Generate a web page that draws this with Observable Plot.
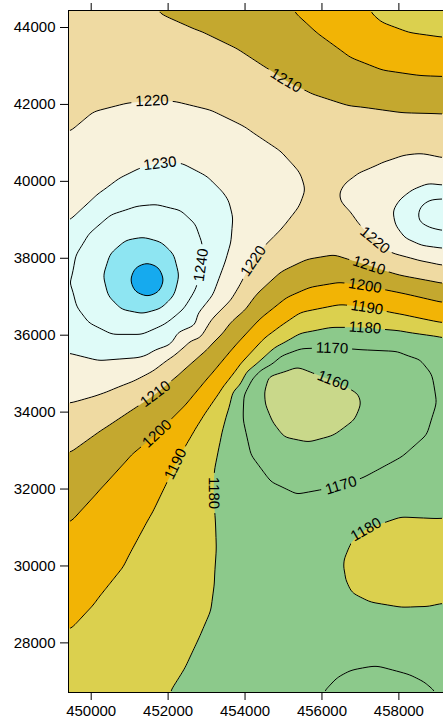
<!DOCTYPE html>
<html>
<head>
<meta charset="utf-8">
<script src="https://cdn.jsdelivr.net/npm/d3@7"></script>
<script src="https://cdn.jsdelivr.net/npm/@observablehq/plot@0.6"></script>
<style>
  html, body { margin: 0; padding: 0; background: #fff; }
  #chart { width: 443px; height: 723px; position: relative; }
  #note { position: absolute; left: 80px; top: 20px; color: red; font: 12px monospace; white-space: pre-wrap; }
</style>
</head>
<body>
<div id="chart"></div>
<div id="note"></div>
<script>
// Survey area extent (easting, northing) and axis ticks
const xDomain = [449410, 459160];
const yDomain = [26710, 44442];
const xTicks = [450000, 452000, 454000, 456000, 458000];
const yTicks = [28000, 30000, 32000, 34000, 36000, 38000, 40000, 42000, 44000];

// Isoline levels and band fills (each band starts at its floor value)
const lineLevels = [1160, 1170, 1180, 1190, 1200, 1210, 1220, 1230, 1240, 1250, 1260];
const bandFloors = [1100, 1160, 1170, 1180, 1190, 1200, 1210, 1220, 1230, 1240, 1250, 1260];
const bandColors = ["#c9d88a", "#8cc98b", "#8cc98b", "#dbd04e", "#f2b405", "#c4a82f",
                    "#efdaa2", "#f8f2dc", "#dffbf8", "#dffbf8", "#8ee5f2", "#16aaee"];

// Surveyed isolines: [easting, northing] vertices
const c1210north = [[451672,44442],[452842,43922],[453752,43480],[454584,42934],[455052,42622],[455702,42310],[456742,41972],[458042,41790],[459160,41764]];
const c1200north = [[455234,44442],[455884,43844],[456742,43220],[457600,42882],[458484,42752],[459160,42726]];
const c1190north = [[457184,44442],[457522,44130],[458224,43870],[459160,43740]];
const c1220west = [[449410,41244],[450060,41790],[451074,42050],[451594,42102],[452140,42076],[453102,41842],[454064,41374],[454922,40802],[455442,40230],[455572,39814],[455390,39320],[454922,38722],[454480,38280],[454220,37942],[453934,37422],[453622,36902],[453102,36382],[452582,35862],[452062,35420],[451620,35082],[451022,34770],[450502,34562],[449982,34380],[449410,34224]];
const c1230west = [[449410,38904],[449826,39294],[450242,39684],[450762,40074],[451282,40334],[451802,40464],[452322,40464],[453024,40100],[453362,39762],[453544,39502],[453674,38982],[453622,38384],[453492,37942],[453154,37032],[452712,36252],[452062,35732],[451282,35420],[450242,35342],[449410,35550]];
const c1240west = [[449462,37344],[449566,38072],[449930,38644],[450502,39138],[451152,39346],[451724,39398],[452322,39242],[452712,38878],[452894,38384],[452868,37812],[452738,37240],[452426,36720],[451932,36304],[451282,36018],[450554,36018],[449930,36330],[449592,36772]];
const c1250 = [[450320,37552],[450502,38124],[450892,38462],[451334,38540],[451802,38410],[452140,38072],[452270,37552],[452140,37032],[451802,36694],[451334,36564],[450814,36668],[450450,37032]];
const c1260 = [[451893,37435],[451768,37739],[451464,37864],[451160,37739],[451035,37435],[451160,37131],[451464,37006],[451768,37131]];
const c1220east = [[459160,40594],[458562,40724],[458120,40672],[457600,40490],[457002,40230],[456612,39970],[456404,39762],[456482,39502],[456742,39242],[457054,38800],[457392,38462],[457782,38150],[458562,37942],[459160,37812]];
const c1230east = [[459160,39866],[458770,39918],[458380,39762],[458042,39502],[457860,39190],[457938,38826],[458172,38514],[458562,38332],[459160,38254]];
const c1240east = [[459160,39580],[458822,39554],[458562,39398],[458432,39190],[458510,38930],[458822,38774],[459160,38696]];
const c1210mid = [[449410,32924],[450242,33522],[451022,34042],[451672,34484],[452322,35030],[452972,35602],[453622,36330],[454272,37032],[454922,37630],[455572,37942],[456352,38072],[457210,37812],[458042,37552],[459160,37344]];
const c1200mid = [[449410,31104],[450242,32014],[451022,32872],[451724,33444],[452452,34172],[453102,34952],[453752,35732],[454402,36434],[455052,36954],[455702,37240],[456482,37370],[457132,37292],[458042,37110],[459160,36850]];
const c1190mid = [[449410,28348],[450112,29102],[450840,30012],[451542,31312],[452192,32664],[452842,33782],[453414,34614],[453934,35290],[454532,35940],[455442,36590],[456482,36798],[457184,36720],[458042,36538],[459160,36304]];
const c1180mid = [[452010,26710],[452452,27412],[452842,28244],[453102,28842],[453206,29622],[453258,30402],[453232,31182],[453180,31884],[453206,32482],[453362,33262],[453570,34042],[453882,34692],[454272,35212],[454792,35680],[455442,36044],[456222,36200],[457132,36200],[458042,36122],[459160,35966]];
const c1170ring = [[454584,35160],[454142,34822],[453960,34484],[453934,33860],[454142,32924],[454662,32222],[455364,31884],[456482,32092],[457080,32300],[458042,32820],[458744,33444],[459004,34224],[458900,35004],[458562,35420],[458042,35602],[456924,35654],[456274,35680],[455442,35654],[454922,35472]];
const c1160ring = [[454454,34562],[454584,35004],[455312,35212],[456300,34822],[456924,34484],[457002,34224],[456820,33782],[456300,33392],[455624,33210],[455000,33340],[454662,33782],[454480,34224]];
const c1180east = [[459160,31260],[458042,31312],[457132,31000],[456742,30662],[456404,30272],[456352,29960],[456482,29570],[456742,29284],[457262,29024],[458042,28894],[458692,28920],[459160,29024]];
const c1170south = [[456014,26710],[456352,27074],[456742,27282],[457444,27412],[458224,27204],[458692,26970],[459082,26710]];

const isolines = [
  {level: 1210, pts: c1210north}, {level: 1200, pts: c1200north}, {level: 1190, pts: c1190north},
  {level: 1220, pts: c1220west}, {level: 1230, pts: c1230west}, {level: 1240, pts: c1240west},
  {level: 1250, pts: c1250}, {level: 1260, pts: c1260},
  {level: 1220, pts: c1220east}, {level: 1230, pts: c1230east}, {level: 1240, pts: c1240east},
  {level: 1210, pts: c1210mid}, {level: 1200, pts: c1200mid}, {level: 1190, pts: c1190mid},
  {level: 1180, pts: c1180mid}, {level: 1170, pts: c1170ring}, {level: 1160, pts: c1160ring},
  {level: 1180, pts: c1180east}, {level: 1170, pts: c1170south}
];

// Spot heights between isolines: [easting, northing, value]
const spotHeights = [
  [449410,44442,1214],[450502,44442,1212],[449410,42882,1216],[451542,43142,1214],[453622,42492,1215],
  [455442,41452,1214],[458042,41218,1215],[459160,41062,1215],
  [455962,40022,1217],[455962,39502,1218],[455962,38852,1216],
  [453362,44442,1205],[456222,44442,1195],[458172,44442,1187],[459160,44442,1184],
  [455442,43402,1205],[457522,43532,1195],[458042,42362,1205],[459160,43220,1195],[459160,42232,1205],
  [449410,40074,1225],[452842,41322,1225],[454532,39892,1225],[450762,41062,1225],[449410,34874,1225],
  [449410,38202,1235],[449410,37344,1239],[449410,36382,1235],[451542,39866,1235],[453258,38384,1235],[451412,35706,1235],
  [451464,37435,1271],[459160,39138,1246],
  [457262,39502,1225],[459160,40282,1225],[459160,38046,1225],[459160,37578,1215],
  [459160,35342,1176],[459160,34302,1171.5],[459160,32482,1174],[459160,27802,1174],[459160,26710,1171],
  [455442,30142,1174],[454662,28582,1175],[454012,26710,1175],[456222,28062,1173],[458042,32014,1175],
  [453674,32482,1175],[453882,30662,1176],[456222,31312,1175],
  [459160,30142,1184],[458042,30142,1183],[457522,26710,1167],
  [458042,34042,1165],[455962,32482,1165],[454454,33262,1165],
  [455572,34302,1154],[456352,34302,1155],
  [449410,26710,1188],[450762,26710,1186],[449410,27542,1189],[451802,28842,1185],[452400,31234,1185],
  [449410,29752,1195],[450242,30662,1195],[449410,32014,1205],[449410,33574,1215]
];

// Isoline labels: [level, easting, northing, reading direction in degrees]
const labelSpots = [
  [1210,455052,42622,27],[1220,451594,42076,0],[1230,451802,40464,0],[1240,452868,37812,-90],
  [1220,454220,37942,-57],[1220,457392,38462,32],[1210,457210,37812,15],[1200,457132,37292,10],
  [1190,457184,36720,8],[1180,457132,36200,5],[1170,456274,35680,0],[1160,456300,34822,22],
  [1170,456482,32092,-15],[1210,451672,34484,-45],[1200,451724,33444,-50],[1190,452192,32664,-65],
  [1180,453180,31884,90],[1180,457132,31000,-30]
];

const samples = [
  ...isolines.flatMap(({level, pts}) => pts.map(([x, y]) => ({x, y, z: level}))),
  ...spotHeights.map(([x, y, z]) => ({x, y, z}))
];

const W = 443, H = 723, ML = 68, MR = 0, MT = 10, MB = 31;
const FONT = "'Liberation Sans', Arial, Helvetica, sans-serif";
const field = {x: "x", y: "y", interpolate: "barycentric", blur: 3, pixelSize: 1};

function isolineMark() {
  return Plot.contour(samples, {
    ...field, value: "z", thresholds: lineLevels,
    fill: "none", stroke: "black", strokeWidth: 1
  });
}

function frameOptions(marks) {
  return {
    width: W, height: H,
    marginLeft: ML, marginRight: MR, marginTop: MT, marginBottom: MB,
    x: {domain: xDomain},
    y: {domain: yDomain},
    color: {type: "ordinal", domain: bandFloors, range: bandColors},
    style: {fontFamily: FONT, fontSize: "15px", color: "black", background: "white"},
    marks
  };
}

// Split a path string into polylines of screen points
function polylines(d) {
  const out = [];
  for (const seg of (d.match(/M[^M]*/g) || [])) {
    const nums = seg.replace(/[MLZ]/g, " ").trim().split(/[\s,]+/).map(Number);
    const pts = [];
    for (let i = 0; i + 1 < nums.length; i += 2) pts.push([nums[i], nums[i + 1]]);
    out.push({pts, closed: /Z/.test(seg)});
  }
  return out;
}

const note = document.getElementById("note");
try {
  // First pass: isolines only, to find where each label sits on its line
  const probe = Plot.plot(frameOptions([isolineMark()]));
  probe.style.position = "absolute";
  probe.style.visibility = "hidden";
  document.body.appendChild(probe);
  const sx = probe.scale("x"), sy = probe.scale("y");
  const probeGroup = probe.querySelector('g[aria-label="contour"]');
  const paths = probeGroup ? Array.from(probeGroup.querySelectorAll("path")) : [];
  if (paths.length !== lineLevels.length) note.textContent = `isoline paths: ${paths.length}`;
  const lineByLevel = new Map(lineLevels.map((lv, i) => [lv, paths[i] ? polylines(paths[i].getAttribute("d") || "") : []]));

  const x0 = ML + 1.5, x1 = W - MR - 1.5, y0 = MT + 1.5, y1 = H - MB - 1.5;
  const labelRows = labelSpots.map(([level, e, n, hint]) => {
    const px = sx.apply(e), py = sy.apply(n);
    let best = null;
    for (const {pts, closed} of lineByLevel.get(level) || []) {
      for (let i = 0; i < pts.length; i++) {
        const [qx, qy] = pts[i];
        if (qx < x0 || qx > x1 || qy < y0 || qy > y1) continue;
        const dd = (qx - px) ** 2 + (qy - py) ** 2;
        if (!best || dd < best.dd) best = {dd, pts, i, closed};
      }
    }
    let ax = px, ay = py, angle = hint;
    if (best && best.dd < 400) {
      const {pts, i, closed} = best;
      const m = pts.length;
      // walk about 7px each way along the line for the local direction
      const walk = (dir) => {
        let j = i, dist = 0;
        for (let step = 0; step < m && dist < 7; step++) {
          const nj = closed ? (j + dir + m) % m : Math.min(m - 1, Math.max(0, j + dir));
          if (nj === j) break;
          dist += Math.hypot(pts[nj][0] - pts[j][0], pts[nj][1] - pts[j][1]);
          j = nj;
        }
        return pts[j];
      };
      const a = walk(-1), b = walk(1);
      [ax, ay] = pts[i];
      const t = Math.atan2(b[1] - a[1], b[0] - a[0]) * 180 / Math.PI;
      const cands = [t, t + 180, t - 180, t + 360, t - 360];
      angle = cands.reduce((p, c) => Math.abs(c - hint) < Math.abs(p - hint) ? c : p);
    }
    return {x: sx.invert(ax), y: sy.invert(ay), px: ax, py: ay, angle, text: String(level)};
  });
  probe.remove();

  // Final chart
  const chart = Plot.plot(frameOptions([
    Plot.contour(samples, {...field, fill: "z", thresholds: bandFloors, stroke: "none"}),
    isolineMark(),
    Plot.text(labelRows, {
      x: "x", y: "y", text: "text", rotate: "angle",
      fontSize: 15, fontFamily: FONT, fill: "black",
      textAnchor: "middle", lineAnchor: "middle"
    }),
    Plot.ruleX([xDomain[0]], {stroke: "black"}),
    Plot.ruleY(yDomain, {stroke: "black"}),
    Plot.axisY({ticks: yTicks, tickSize: 8, tickPadding: 5, tickFormat: d => String(d), label: null, fontSize: 15}),
    Plot.axisX({ticks: xTicks, anchor: "bottom", tickSize: 8, tickPadding: 5, tickFormat: d => String(d), label: null, fontSize: 15}),
    Plot.axisX({ticks: xTicks, anchor: "top", tickSize: 8, tickFormat: () => "", label: null})
  ]));
  document.getElementById("chart").appendChild(chart);

  // Break the isolines where their labels sit, and keep them off the frame edge:
  // an even-odd clip region made of the inner frame minus one box per label
  const contourGroups = chart.querySelectorAll('g[aria-label="contour"]');
  const lines = contourGroups[1];
  const textGroup = chart.querySelector('g[aria-label="text"]');
  const texts = textGroup ? Array.from(textGroup.querySelectorAll("text")) : [];
  let d = `M${x0},${y0}H${x1}V${y1}H${x0}Z`;
  labelRows.forEach((r, i) => {
    let len = 34;
    try { len = texts[i].getComputedTextLength() || 34; } catch (e) {}
    const hw = len / 2 + 4, hh = 7.5;
    const c = Math.cos(r.angle * Math.PI / 180), s = Math.sin(r.angle * Math.PI / 180);
    const corner = (u, v) => `${(r.px + u * c - v * s).toFixed(2)},${(r.py + u * s + v * c).toFixed(2)}`;
    d += `M${corner(-hw, -hh)}L${corner(hw, -hh)}L${corner(hw, hh)}L${corner(-hw, hh)}Z`;
  });
  const ns = "http://www.w3.org/2000/svg";
  const defs = document.createElementNS(ns, "defs");
  const clip = document.createElementNS(ns, "clipPath");
  clip.setAttribute("id", "isoline-gaps");
  clip.setAttribute("clipPathUnits", "userSpaceOnUse");
  const region = document.createElementNS(ns, "path");
  region.setAttribute("d", d);
  region.setAttribute("clip-rule", "evenodd");
  clip.appendChild(region);
  defs.appendChild(clip);
  chart.appendChild(defs);
  if (lines) {
    lines.setAttribute("clip-path", "url(#isoline-gaps)");
  } else {
    note.textContent += " no isoline group";
  }
} catch (err) {
  note.textContent = String(err && err.stack || err);
}
</script>
</body>
</html>
